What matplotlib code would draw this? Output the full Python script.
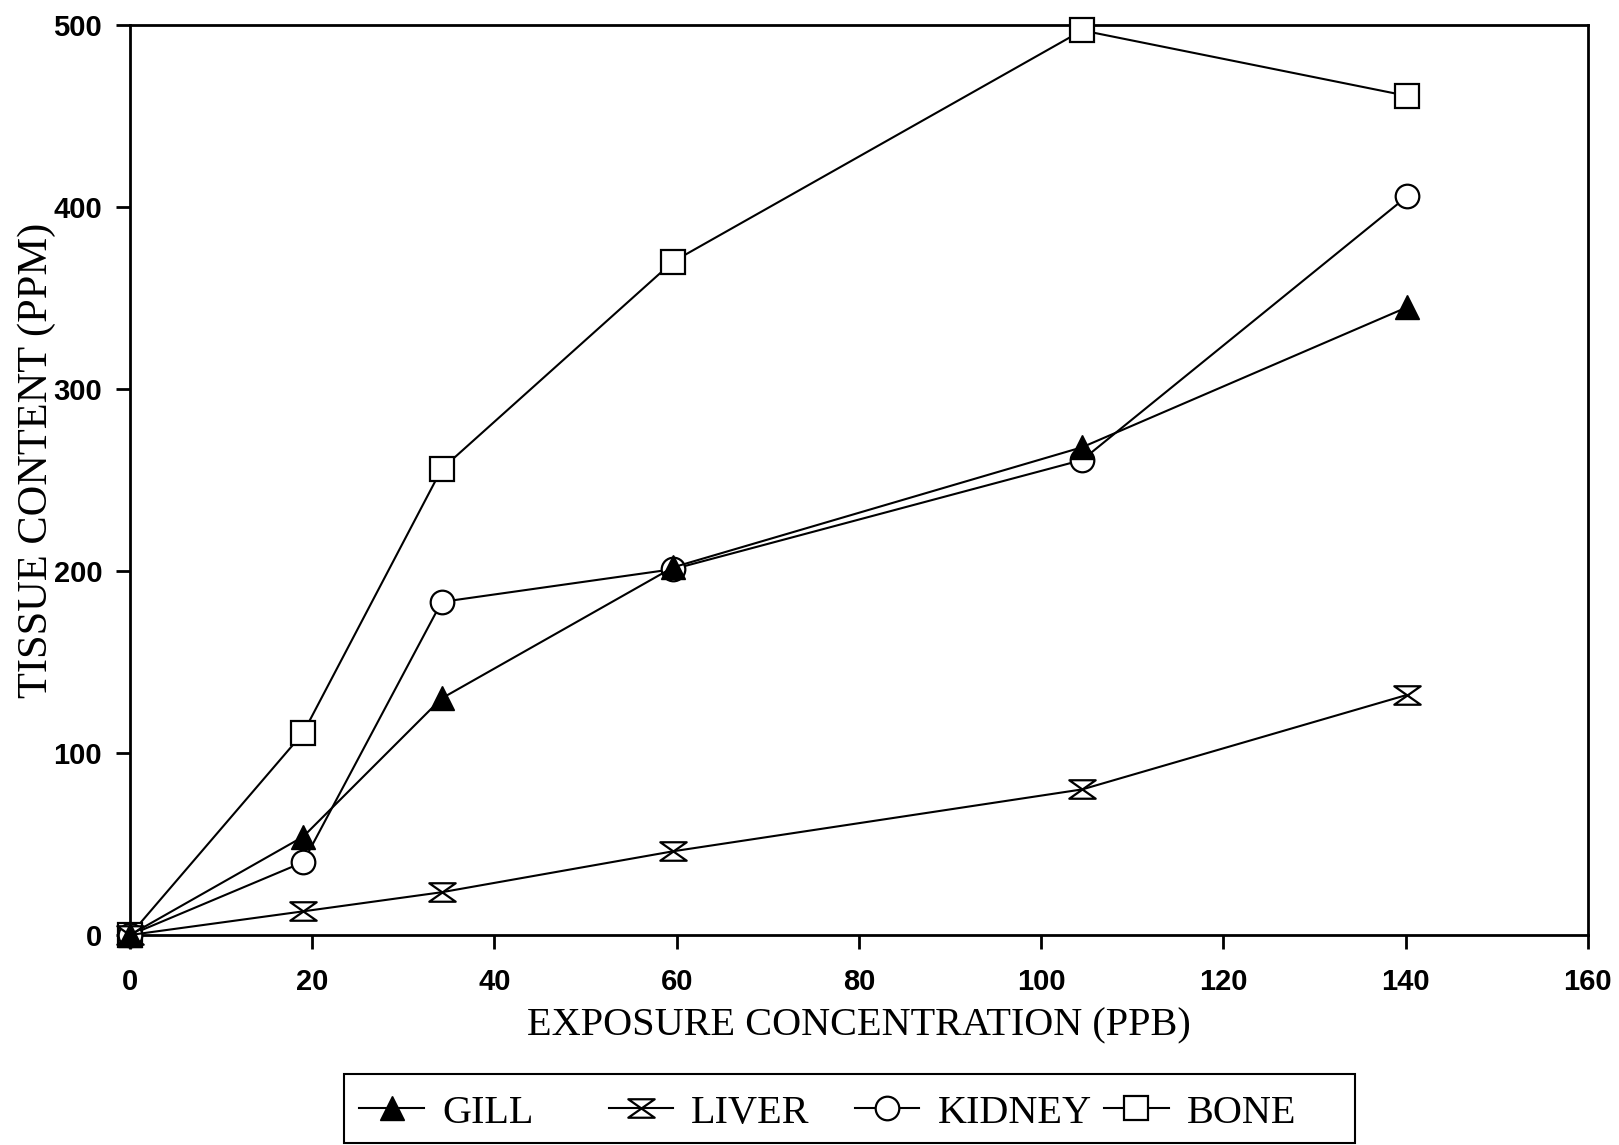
import numpy as np
from matplotlib import pyplot as plt
from matplotlib.path import Path
from matplotlib.patches import Rectangle

# exposure concentration (PPB) and tissue content (PPM)
conc = [0, 19, 34.2, 59.6, 104.5, 140.2]
gill = [0, 54, 130, 202, 268, 345]
liver = [0, 13, 23.5, 46, 80, 132]
kidney = [0, 40, 183, 201, 261, 406]
bone = [0, 111, 256, 370, 497, 461]

names = ['GILL', 'LIVER', 'KIDNEY', 'BONE']

# hourglass marker for the liver series
hourglass = Path([(-1, 0.7), (1, 0.7), (-1, -0.7), (1, -0.7), (-1, 0.7)],
                 [Path.MOVETO, Path.LINETO, Path.LINETO, Path.LINETO, Path.CLOSEPOLY])

serif = 'Liberation Serif'
sans = 'Liberation Sans'

fig = plt.figure(figsize=(16.19, 11.45), dpi=100)
ax = fig.add_axes([0.0803, 0.1834, 0.9005, 0.7948])

lw = 1.5
ms = 17
l_bone, = ax.plot(conc, bone, '-', color='k', lw=lw, marker='s', ms=ms, mfc='white', mec='k', mew=1.6,
                  clip_on=False, zorder=3)
l_kid, = ax.plot(conc, kidney, '-', color='k', lw=lw, marker='o', ms=ms, mfc='white', mec='k', mew=1.6,
                 clip_on=False, zorder=4)
l_liv, = ax.plot(conc, liver, '-', color='k', lw=lw, marker=hourglass, ms=ms + 2, mfc='white', mec='k',
                 mew=1.6, clip_on=False, zorder=4)
l_gill, = ax.plot(conc, gill, '-', color='k', lw=lw, marker='^', ms=ms, mfc='k', mec='k',
                  clip_on=False, zorder=5)

ax.set_xlim(0, 160)
ax.set_ylim(0, 500)
ax.set_xticks(np.arange(0, 161, 20))
ax.set_yticks(np.arange(0, 501, 100))

for axis in ['top', 'bottom', 'left', 'right']:
    ax.spines[axis].set_linewidth(2)
ax.tick_params(direction='out', length=10, width=2, labelsize=21)
ax.tick_params(axis='x', pad=14)
ax.tick_params(axis='y', pad=10)
for lab in ax.get_xticklabels() + ax.get_yticklabels():
    lab.set_fontfamily(sans)
    lab.set_fontweight('bold')

ax.set_xlabel('EXPOSURE CONCENTRATION (PPB)', fontsize=29, family=serif, labelpad=8)
ax.set_ylabel('TISSUE CONTENT (PPM)', fontsize=30.5, family=serif)
ax.yaxis.set_label_coords(-0.051, 0.522)

# legend: equally spaced entries inside one box
lines = [l_gill, l_liv, l_kid, l_bone]
starts = [0.222, 0.376, 0.528, 0.682]
for ln, name, x0 in zip(lines, names, starts):
    lg = fig.legend([ln], [name], loc='center left', bbox_to_anchor=(x0, 0.028),
                    prop={'family': serif, 'size': 29}, frameon=False,
                    handlelength=1.6, handletextpad=0.45, borderpad=0.0, borderaxespad=0.0)
fig.add_artist(Rectangle((0.2125, 0.002), 0.6245, 0.060, transform=fig.transFigure,
                         fill=False, edgecolor='k', lw=1.5))

fig.savefig('out.png', dpi=100)
